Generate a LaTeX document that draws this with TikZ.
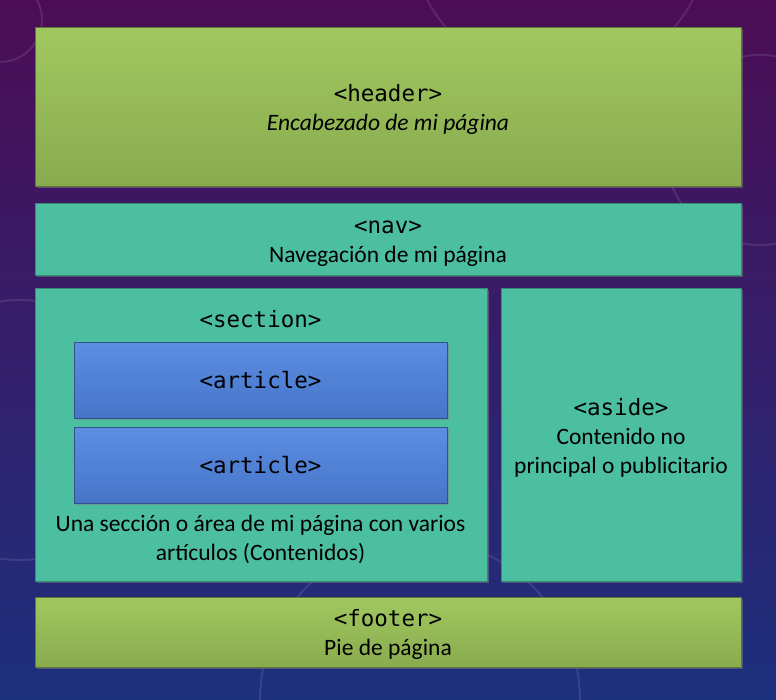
\documentclass[tikz,border=0pt]{standalone}
\usepackage{fontspec}
\setmainfont{Carlito}
\setmonofont{DejaVu Sans Mono}
\usepackage{tikz}
\usetikzlibrary{positioning,shadows}
\definecolor{bgtop}{RGB}{76,13,86}
\definecolor{bgbottom}{RGB}{28,48,126}
\definecolor{limetop}{RGB}{160,200,95}
\definecolor{limebottom}{RGB}{137,171,78}
\definecolor{tealbox}{RGB}{77,191,161}
\definecolor{tealedge}{RGB}{52,140,115}
\definecolor{bluetop}{RGB}{92,142,226}
\definecolor{bluebottom}{RGB}{70,117,200}
\newcommand{\tagtext}[1]{\rule{0pt}{23pt}\texttt{\fontsize{22.5}{29}\selectfont#1}}

\begin{document}
\begin{tikzpicture}[x=1pt,y=-1pt,
  every node/.style={align=center,inner sep=0pt,font=\fontsize{23.5}{29}\selectfont},
  limebox/.style={draw=limebottom!70!black,top color=limetop,bottom color=limebottom,
    drop shadow={shadow xshift=2pt,shadow yshift=-2pt,opacity=0.5}},
  tealbox/.style={draw=tealedge,fill=tealbox,
    drop shadow={shadow xshift=2pt,shadow yshift=-2pt,opacity=0.5}},
  bluebox/.style={draw=bluebottom!70!black,top color=bluetop,bottom color=bluebottom,
    drop shadow={shadow xshift=2pt,shadow yshift=-2pt,opacity=0.5}},
  tag/.style={font=\fontsize{22.5}{29}\ttfamily}]
  % background
  \shade[top color=bgtop,bottom color=bgbottom] (0,0) rectangle (776,699);
  \useasboundingbox (0,0) rectangle (776,699);
  \begin{scope}[white,opacity=0.1,line width=2pt]
    \draw (0,20) circle (42);
    \draw (20,430) circle (130);
    \draw (760,150) circle (95);
    \draw (560,-70) circle (150);
    \draw (420,700) circle (160);
  \end{scope}
  % boxes
  \node[limebox,minimum width=706,minimum height=159] (header) at (388,106.5)
    {\tagtext{<header>}\\\textit{Encabezado de mi página}};
  \node[tealbox,minimum width=706,minimum height=72] (nav) at (388,239)
    {\tagtext{<nav>}\\Navegación de mi página};
  \node[tealbox,minimum width=452,minimum height=293] (section) at (261,434.5) {};
  \node[tealbox,minimum width=240,minimum height=293] (aside) at (621,434.5)
    {\tagtext{<aside>}\\Contenido no\\principal o publicitario};
  \node[limebox,minimum width=706,minimum height=70] (footer) at (388,632)
    {\tagtext{<footer>}\\Pie de página};
  \node[bluebox,tag,minimum width=373,minimum height=76] (article1) at (260.5,380) {<article>};
  \node[bluebox,tag,minimum width=373,minimum height=76] (article2) at (260.5,465) {<article>};
  % section texts
  \node[tag,above=14pt of article1] (sectag) {<section>};
  \node[below=12pt of article2] (seccap)
    {Una sección o área de mi página con varios\\artículos (Contenidos)};
\end{tikzpicture}
\end{document}
